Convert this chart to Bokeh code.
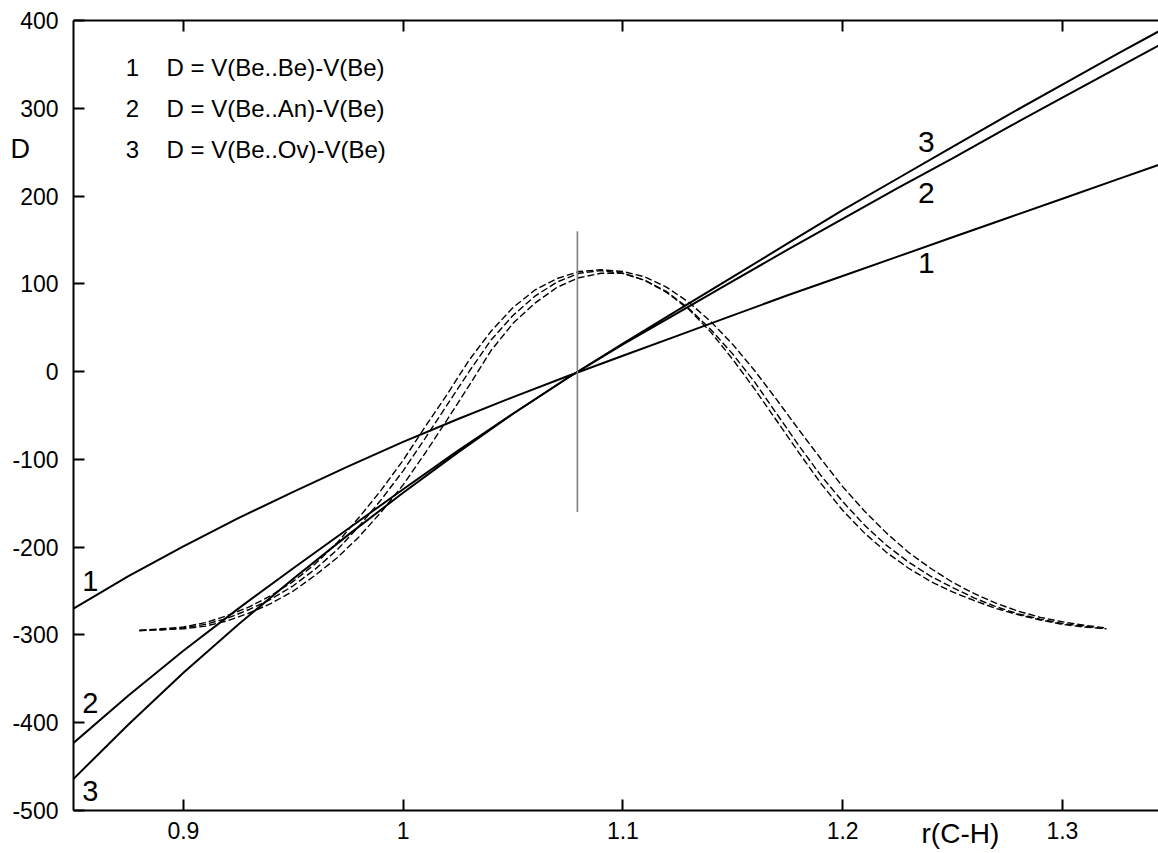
from bokeh.plotting import figure
from bokeh.models import Range1d, FixedTicker, LinearAxis
from bokeh.core.properties import value
from bokeh.embed import file_html
from bokeh.resources import INLINE

# ---------------- data ----------------
r_solid = [0.85, 0.875, 0.90, 0.925, 0.95, 0.975, 1.00, 1.025, 1.05, 1.075,
           1.10, 1.125, 1.15, 1.175, 1.20, 1.225, 1.25, 1.275, 1.30, 1.325, 1.35]
d_be_be = [-270, -233, -199, -167, -137, -108, -80, -54, -29, -5,
           18, 41, 64, 87, 109, 131, 153, 175, 197, 219, 241]
d_be_an = [-423, -369, -318, -270, -224, -179, -134, -90, -48, -7,
           31, 67, 103, 139, 174, 209, 243, 278, 312, 346, 380]
d_be_ov = [-464, -402, -343, -288, -236, -186, -138, -92, -48, -7,
           32, 70, 108, 146, 184, 220, 256, 292, 327, 362, 396]

r_dash = [0.88, 0.89, 0.90, 0.91, 0.92, 0.93, 0.94, 0.95, 0.96, 0.97,
          0.98, 0.99, 1.00, 1.01, 1.02, 1.03, 1.04, 1.05, 1.06, 1.07,
          1.08, 1.09, 1.10, 1.11, 1.12, 1.13, 1.14, 1.15, 1.16, 1.17,
          1.18, 1.19, 1.20, 1.21, 1.22, 1.23, 1.24, 1.25, 1.26, 1.27,
          1.28, 1.29, 1.30, 1.31, 1.32]
dens_a = [-295, -293, -291, -286, -278, -268, -255, -239, -219, -195,
          -166, -135, -101, -63, -26, 13, 46, 73, 93, 106,
          114, 116, 114, 108, 96, 79, 57, 31, 1, -32,
          -66, -99, -131, -159, -184, -206, -224, -240, -253, -264,
          -273, -280, -285, -289, -292]
dens_b = [-295, -294, -292, -288, -281, -271, -259, -244, -225, -203,
          -176, -146, -113, -76, -38, 0, 36, 64, 86, 102,
          112, 115, 112, 104, 91, 72, 48, 20, -12, -48,
          -84, -118, -148, -175, -198, -217, -233, -246, -258, -268,
          -276, -282, -287, -290, -293]
dens_c = [-295, -294, -293, -290, -284, -275, -264, -250, -232, -212,
          -188, -160, -129, -93, -55, -16, 24, 55, 78, 96,
          107, 112, 112, 104, 90, 71, 45, 14, -20, -56,
          -92, -127, -158, -184, -206, -224, -239, -251, -261, -270,
          -277, -283, -288, -291, -293]

r_eq = [1.0793, 1.0793]
eq_span = [-160, 160]

x_ticks = [0.9, 1.0, 1.1, 1.2, 1.3]
x_tick_labels = ["0.9", "1", "1.1", "1.2", "1.3"]
y_ticks = [-500, -400, -300, -200, -100, 0, 100, 200, 300, 400]
y_tick_labels = ["-500", "-400", "-300", "-200", "-100", "0", "100", "200", "300", "400"]

curve_ids = ["1", "2", "3"]
legend_texts = ["D = V(Be..Be)-V(Be)", "D = V(Be..An)-V(Be)", "D = V(Be..Ov)-V(Be)"]
y_title = ["D"]
x_title = ["r(C-H)"]

# ---------------- figure ----------------
FONT = "Liberation Sans"

p = figure(width=1158, height=853, output_backend="svg", toolbar_location=None,
           x_range=Range1d(0.85, 1.34374), y_range=Range1d(-500, 400),
           x_axis_location=None, y_axis_location=None,
           min_border_left=73, min_border_right=0, min_border_top=20, min_border_bottom=43)
p.outline_line_color = None
p.xgrid.visible = False
p.ygrid.visible = False
p.background_fill_color = "white"
p.border_fill_color = "white"


def style_axis(ax, show_labels=True):
    ax.axis_line_width = 2
    ax.axis_line_color = "black"
    ax.major_tick_line_width = 2
    ax.major_tick_line_color = "black"
    ax.major_tick_in = 11
    ax.major_tick_out = 0
    ax.minor_tick_line_color = None
    ax.major_label_text_font = FONT
    ax.major_label_text_color = "black"
    if show_labels:
        ax.major_label_text_font_size = "23px"
    else:
        ax.major_label_text_font_size = "0px"
        ax.major_label_standoff = 0


xb = LinearAxis(ticker=FixedTicker(ticks=x_ticks),
                major_label_overrides={t: s for t, s in zip(x_ticks, x_tick_labels)})
style_axis(xb)
xb.major_label_standoff = 11
p.add_layout(xb, "below")

xt = LinearAxis(ticker=FixedTicker(ticks=x_ticks),
                major_label_overrides={t: "" for t in x_ticks})
style_axis(xt, show_labels=False)
p.add_layout(xt, "above")

yl = LinearAxis(ticker=FixedTicker(ticks=y_ticks),
                major_label_overrides={t: s for t, s in zip(y_ticks, y_tick_labels)})
style_axis(yl)
yl.major_label_standoff = 15
p.add_layout(yl, "left")

# curves
for ys in (d_be_be, d_be_an, d_be_ov):
    p.line(r_solid, ys, line_color="black", line_width=2)

for ys in (dens_a, dens_b, dens_c):
    p.line(r_dash, ys, line_color="black", line_width=1.4, line_dash="7 3")

p.line(r_eq, eq_span, line_color="#808080", line_width=1.6)

# legend-like text block (top left)
leg_num_x = [0.8768, 0.8768, 0.8768]
leg_txt_x = [0.8923, 0.8923, 0.8923]
leg_y = [347, 300, 253]
p.text(leg_num_x, leg_y, text=curve_ids, text_font=value(FONT), text_font_size="24px",
       text_align="center", text_baseline="middle", text_color="black")
p.text(leg_txt_x, leg_y, text=legend_texts, text_font=value(FONT), text_font_size="24px",
       text_align="left", text_baseline="middle", text_color="black")

# curve numbers
p.text([0.8577, 0.8577, 0.8577], [-238, -378, -478], text=curve_ids,
       text_font=value(FONT), text_font_size="29px",
       text_align="center", text_baseline="middle", text_color="black")
p.text([1.2381, 1.2381, 1.2381], [124, 203, 262], text=curve_ids,
       text_font=value(FONT), text_font_size="30px",
       text_align="center", text_baseline="middle", text_color="black")

# axis titles (outside the frame; drawn at overlay level so they are not clipped)
p.text([0.8213], [254], text=y_title, text_font=value(FONT), text_font_size="27px",
       text_align="left", text_baseline="middle", text_color="black", level="overlay")
p.text([1.2536], [-526], text=x_title, text_font=value(FONT), text_font_size="28px",
       text_align="center", text_baseline="middle", text_color="black", level="overlay")

open("out.html", "w").write(file_html(p, INLINE))
